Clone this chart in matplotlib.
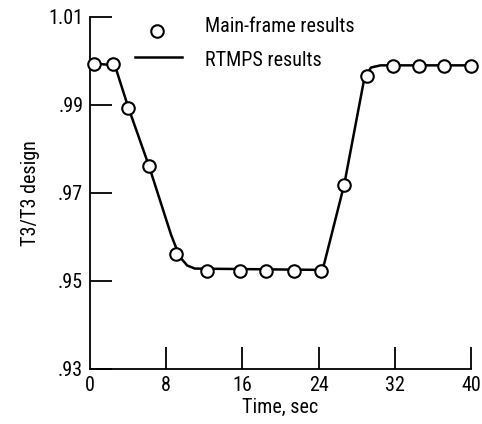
import matplotlib
matplotlib.use("Agg")
from matplotlib import pyplot as plt

# dados: resultados do computador principal (pontos) e do RTMPS (linha)
tempo_main = [0.4, 2.4, 4.0, 6.2, 9.0, 12.3, 15.7, 18.5, 21.4, 24.3,
              26.7, 29.1, 31.8, 34.5, 37.2, 40.0]
t3_main = [0.9994, 0.9992, 0.9892, 0.9762, 0.9562, 0.9523, 0.9523, 0.9523,
           0.9523, 0.9523, 0.9718, 0.9965, 0.9988, 0.9988, 0.9988, 0.9988]

tempo_rtmps = [0.0, 2.6, 4.0, 6.2, 8.5, 9.4, 10.2, 11.0, 24.3, 24.6,
               26.7, 28.8, 29.5, 30.5, 40.0]
t3_rtmps = [0.9995, 0.9990, 0.9895, 0.9760, 0.9605, 0.9555, 0.9535, 0.9528,
            0.9525, 0.9540, 0.9720, 0.9960, 0.9985, 0.9990, 0.9990]

x_ticks = [0, 8, 16, 24, 32, 40]
y_ticks = [0.93, 0.95, 0.97, 0.99, 1.01]
y_labels = ['.93', '.95', '.97', '.99', '1.01']

# fonte estreita, parecida com a do relatório
plt.rcParams['font.family'] = ['Roboto Condensed', 'DejaVu Sans']
plt.rcParams['font.size'] = 14.5

fig = plt.figure(figsize=(4.82, 4.24), dpi=100)
ax = fig.add_axes([0.187, 0.13, 0.79, 0.83])

ax.plot(tempo_rtmps, t3_rtmps, color='black', lw=1.8, zorder=2)
ax.plot(tempo_main, t3_main, 'o', mfc='white', mec='black', mew=1.5,
        ms=9, zorder=3, clip_on=False)

ax.set_xlim(0, 40)
ax.set_ylim(0.93, 1.01)
ax.set_xticks(x_ticks)
ax.set_yticks(y_ticks)
ax.set_yticklabels(y_labels)
ax.tick_params(direction='in', length=16, width=1.3, pad=5)
ax.xaxis.get_major_ticks()[0].tick1line.set_visible(False)

ax.spines['top'].set_visible(False)
ax.spines['right'].set_visible(False)
ax.spines['left'].set_linewidth(1.3)
ax.spines['bottom'].set_linewidth(1.3)

ax.set_xlabel('Time, sec', labelpad=2)
ax.set_ylabel('T3/T3 design', labelpad=6)

# legenda desenhada à mão
ax.plot([157 / 482], [1 - 31 / 424], 'o', mfc='white', mec='black', mew=1.5,
        ms=9, transform=fig.transFigure, clip_on=False)
ax.plot([135 / 482, 182 / 482], [1 - 57 / 424] * 2, color='black', lw=1.8,
        transform=fig.transFigure, clip_on=False)
fig.text(205 / 482, 1 - 27 / 424, 'Main-frame results', va='center')
fig.text(205 / 482, 1 - 60 / 424, 'RTMPS results', va='center')

fig.savefig('out.png', dpi=100)
